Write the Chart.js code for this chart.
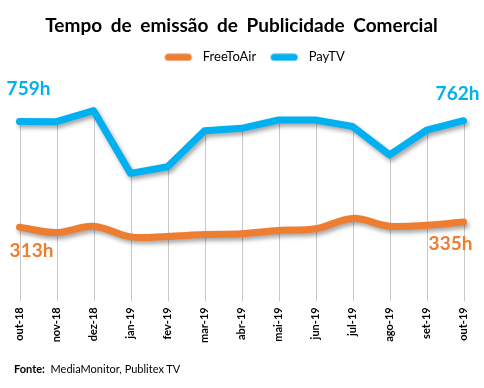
<!DOCTYPE html>
<html>
<head>
<meta charset="utf-8">
<script src="https://cdn.jsdelivr.net/npm/chart.js@4.4.1/dist/chart.umd.min.js"></script>
<style>
  html, body { margin: 0; padding: 0; background: #fff; }
  #wrap { position: relative; width: 484px; height: 388px; }
  #fonte { position: absolute; left: 14px; top: 362px; font: 11px Lato, sans-serif; color: #000; }
</style>
</head>
<body>
<div id="wrap">
  <canvas id="chart" width="484" height="388"></canvas>
  <div id="fonte"><b>Fonte:</b>&nbsp; MediaMonitor, Publitex TV</div>
</div>
<script>
// meses (out-18 .. out-19)
const months = ['out-18', 'nov-18', 'dez-18', 'jan-19', 'fev-19', 'mar-19', 'abr-19',
  'mai-19', 'jun-19', 'jul-19', 'ago-19', 'set-19', 'out-19'];

// horas de publicidade
const freeToAir = [313, 290, 317, 272, 274, 282, 285, 299, 306, 350, 317, 321, 335];
const payTV = [759, 758, 805, 540, 568, 720, 730, 765, 765, 738, 618, 722, 762];

const ORANGE = '#ED7D31';
const BLUE = '#00B0F0';

// legend swatch: thick rounded line, with some room before the text
function swatch(color) {
  const c = document.createElement('canvas');
  c.width = 32;
  c.height = 8;
  const g = c.getContext('2d');
  g.strokeStyle = color;
  g.lineWidth = 7;
  g.lineCap = 'round';
  g.beginPath();
  g.moveTo(4, 4);
  g.lineTo(24, 4);
  g.stroke();
  return c;
}

// wider gaps between words, as in the Excel title
const wordGap = {
  id: 'wordGap',
  beforeDraw(chart) {
    chart.ctx.wordSpacing = '4px';
  }
};

// Excel centres the legend a bit right of the plot centre
const legendNudge = {
  id: 'legendNudge',
  afterLayout(chart) {
    chart.legend.left += 13;
    chart.legend.right += 13;
  }
};

// drop lines, like Excel: from the higher point down to the axis
const dropLines = {
  id: 'dropLines',
  beforeDatasetsDraw(chart) {
    const { ctx, chartArea, scales } = chart;
    ctx.save();
    ctx.strokeStyle = '#c9c9c9';
    ctx.lineWidth = 1;
    months.forEach((m, i) => {
      const x = Math.round(scales.x.getPixelForValue(i)) + 0.5;
      const top = scales.y.getPixelForValue(Math.max(freeToAir[i], payTV[i]));
      ctx.beginPath();
      ctx.moveTo(x, top);
      ctx.lineTo(x, chartArea.bottom);
      ctx.stroke();
    });
    ctx.restore();
  }
};

// soft shadow under the lines
const lineShadow = {
  id: 'lineShadow',
  beforeDatasetDraw(chart) {
    const ctx = chart.ctx;
    ctx.save();
    ctx.shadowColor = 'rgba(0,0,0,0.35)';
    ctx.shadowBlur = 4;
    ctx.shadowOffsetX = 2;
    ctx.shadowOffsetY = 3;
  },
  afterDatasetDraw(chart) {
    chart.ctx.restore();
  }
};

// first / last value labels
const endLabels = {
  id: 'endLabels',
  afterDatasetsDraw(chart) {
    const { ctx } = chart;
    const spots = [
      { ds: 1, i: 0, dx: 9, dy: -33 },
      { ds: 0, i: 0, dx: 12, dy: 24 },
      { ds: 1, i: months.length - 1, dx: -6, dy: -27 },
      { ds: 0, i: months.length - 1, dx: -13, dy: 22 }
    ];
    ctx.save();
    ctx.font = 'bold 19px Lato, sans-serif';
    ctx.textAlign = 'center';
    ctx.textBaseline = 'middle';
    spots.forEach(s => {
      const pt = chart.getDatasetMeta(s.ds).data[s.i];
      const val = chart.data.datasets[s.ds].data[s.i];
      ctx.fillStyle = chart.data.datasets[s.ds].borderColor;
      ctx.fillText(val + 'h', pt.x + s.dx, pt.y + s.dy);
    });
    ctx.restore();
  }
};

new Chart(document.getElementById('chart').getContext('2d'), {
  type: 'line',
  data: {
    labels: months,
    datasets: [
      {
        label: 'FreeToAir',
        data: freeToAir,
        borderColor: ORANGE,
        backgroundColor: ORANGE,
        borderWidth: 7,
        borderCapStyle: 'round',
        borderJoinStyle: 'round',
        tension: 0.35,
        pointRadius: 0,
        pointStyle: swatch(ORANGE)
      },
      {
        label: 'PayTV',
        data: payTV,
        borderColor: BLUE,
        backgroundColor: BLUE,
        borderWidth: 7,
        borderCapStyle: 'round',
        borderJoinStyle: 'round',
        tension: 0,
        pointRadius: 0,
        pointStyle: swatch(BLUE)
      }
    ]
  },
  options: {
    responsive: false,
    animation: false,
    layout: { padding: { left: 1, right: 2, top: 10, bottom: 39 } },
    plugins: {
      title: {
        display: true,
        text: 'Tempo de emissão de Publicidade Comercial',
        color: '#000',
        font: { family: 'Lato, sans-serif', size: 19, weight: 'bold' },
        padding: { top: 4, bottom: 0 }
      },
      legend: {
        position: 'top',
        labels: {
          color: '#000',
          font: { family: 'Lato, sans-serif', size: 13 },
          usePointStyle: true,
          pointStyleWidth: 32,
          boxHeight: 12,
          padding: 14
        }
      },
      tooltip: { enabled: false }
    },
    scales: {
      x: {
        offset: true,
        grid: { display: false, drawTicks: false },
        border: { display: false },
        ticks: {
          minRotation: 90,
          maxRotation: 90,
          padding: 6,
          color: '#000',
          font: { family: 'Lato, sans-serif', size: 11, weight: 'bold' }
        }
      },
      y: {
        display: false,
        min: 0,
        max: 960
      }
    }
  },
  plugins: [wordGap, legendNudge, dropLines, lineShadow, endLabels]
});
</script>
</body>
</html>
